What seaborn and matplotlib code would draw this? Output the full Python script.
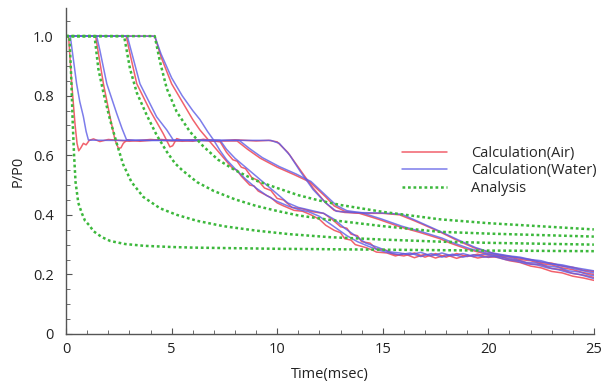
import numpy as np
import pandas as pd
import matplotlib
matplotlib.use("Agg")
import matplotlib.pyplot as plt
import seaborn as sns

sns.set_style("ticks")
plt.rcParams['font.family'] = ['Open Sans', 'DejaVu Sans']
plt.rcParams['font.size'] = 10.5

# ---- data (time in msec, P/P0) ----
# analysis curves (green dotted), one per case
a1_t = [0, 0.16, 0.24, 0.32, 0.38, 0.45, 0.58, 0.75, 0.9, 1.1, 1.3, 1.7, 2.1, 2.8, 3.7, 5, 6, 8, 10, 15, 20, 25]
a1_p = [1.0, 1.0, 0.87, 0.70, 0.60, 0.51, 0.44, 0.405, 0.38, 0.365, 0.345, 0.325, 0.312, 0.302, 0.296, 0.292, 0.29,
        0.288, 0.286, 0.283, 0.28, 0.278]
a2_t = [0, 1.35, 1.53, 1.77, 2.08, 2.4, 2.7, 3.1, 3.66, 4.45, 5.24, 6.2, 7.45, 9, 10.6, 12.5, 15, 17.7, 20, 25]
a2_p = [1.0, 1.0, 0.89, 0.81, 0.72, 0.64, 0.57, 0.51, 0.46, 0.422, 0.40, 0.38, 0.362, 0.347, 0.335, 0.325, 0.317,
        0.31, 0.306, 0.30]
a3_t = [0, 2.75, 3.03, 3.35, 3.82, 4.29, 4.77, 5.16, 5.5, 6.2, 7, 8, 9, 10, 11, 12.5, 15, 17.7, 20, 25]
a3_p = [1.0, 1.0, 0.89, 0.81, 0.735, 0.668, 0.612, 0.573, 0.55, 0.51, 0.48, 0.452, 0.43, 0.413, 0.398, 0.383, 0.362,
        0.343, 0.337, 0.327]
a4_t = [0, 4.2, 4.45, 4.77, 5.24, 5.87, 6.5, 7.2, 8, 9, 10, 11, 12, 13, 15, 17.7, 20, 25]
a4_p = [1.0, 1.0, 0.914, 0.824, 0.746, 0.679, 0.63, 0.585, 0.55, 0.515, 0.49, 0.466, 0.448, 0.433, 0.41, 0.385,
        0.372, 0.351]

# calculation, air (red)
r1_t = [0, 0.12, 0.27, 0.43, 0.52, 0.6, 0.7, 0.82, 0.95, 1.1, 1.3, 1.6, 2, 3, 4, 5, 6, 7, 8, 9, 9.6, 10.0, 10.5,
        11.1, 11.7, 12.3, 12.7, 13.2, 14, 15, 15.8, 16.5, 17.7, 18.5, 19.3, 20.0, 20.5, 20.9, 21.5, 22, 22.5, 23,
        23.5, 24, 24.5, 25]
r1_p = [1.0, 1.0, 0.84, 0.70, 0.64, 0.615, 0.625, 0.64, 0.635, 0.65, 0.655, 0.646, 0.653, 0.647, 0.653, 0.648,
        0.652, 0.647, 0.652, 0.648, 0.65, 0.645, 0.61, 0.55, 0.49, 0.44, 0.415, 0.408, 0.405, 0.405, 0.40, 0.38,
        0.343, 0.315, 0.29, 0.275, 0.266, 0.262, 0.255, 0.25, 0.24, 0.238, 0.228, 0.224, 0.214, 0.21]
r2_t = [0, 1.4, 1.77, 2.08, 2.32, 2.48, 2.6, 2.71, 2.9, 3.5, 4.5, 5.5, 6.5, 7.5, 8.1, 8.6, 9.2, 10, 10.8, 11.55,
        12.3, 12.7, 13.2, 13.9, 14.8, 15.8, 16.8, 17.7, 18.2, 19, 19.8, 20.5, 21, 21.5, 22, 22.5, 23, 23.5, 24, 24.5,
        25]
r2_p = [1.0, 1.0, 0.84, 0.73, 0.651, 0.623, 0.625, 0.64, 0.652, 0.647, 0.653, 0.647, 0.653, 0.648, 0.648, 0.62,
        0.59, 0.56, 0.535, 0.51, 0.46, 0.43, 0.412, 0.405, 0.385, 0.36, 0.34, 0.32, 0.305, 0.285, 0.27, 0.262, 0.258,
        0.25, 0.246, 0.236, 0.232, 0.222, 0.216, 0.206, 0.2]
r3_t = [0, 2.85, 3.0, 3.35, 3.98, 4.6, 4.92, 5.05, 5.24, 5.5, 6, 6.5, 7, 7.3, 7.6, 7.9, 8.1, 8.3, 8.5, 8.8, 9.1,
        9.4, 9.7, 10.0, 10.3, 10.7, 11.2, 11.7, 12.2, 12.6, 13.0, 13.3, 13.5, 13.8, 14.0, 14.4, 14.7, 15.1, 15.5, 16,
        16.5, 17, 17.5, 18, 18.5, 19, 19.5, 20, 20.5, 21, 21.5, 22, 22.5, 23, 23.5, 24, 24.5, 25]
r3_p = [1.0, 1.0, 0.95, 0.84, 0.75, 0.673, 0.628, 0.632, 0.656, 0.65, 0.647, 0.653, 0.648, 0.645, 0.61, 0.585,
        0.58, 0.56, 0.555, 0.525, 0.515, 0.49, 0.482, 0.455, 0.45, 0.425, 0.42, 0.41, 0.405, 0.385, 0.36, 0.355,
        0.335, 0.33, 0.31, 0.305, 0.285, 0.283, 0.268, 0.262, 0.272, 0.258, 0.27, 0.258, 0.27, 0.26, 0.268, 0.257,
        0.262, 0.25, 0.246, 0.235, 0.232, 0.22, 0.216, 0.203, 0.198, 0.19]
r4_t = [0, 4.2, 4.5, 5, 5.5, 6, 6.34, 6.7, 7, 7.3, 7.6, 7.9, 8.1, 8.3, 8.7, 8.9, 9.1, 9.5, 9.7, 10, 10.3, 10.8,
        11.2, 11.6, 12.0, 12.3, 12.7, 13.0, 13.2, 13.5, 13.7, 14.2, 14.5, 14.7, 15.2, 15.6, 16, 16.5, 17, 17.5, 18,
        18.5, 19, 19.5, 20, 20.5, 21, 21.5, 22, 22.5, 23, 23.5, 24, 24.5, 25]
r4_p = [1.0, 1.0, 0.93, 0.84, 0.78, 0.72, 0.685, 0.655, 0.63, 0.605, 0.58, 0.555, 0.55, 0.53, 0.50, 0.497, 0.48,
        0.465, 0.458, 0.44, 0.43, 0.415, 0.412, 0.40, 0.385, 0.365, 0.348, 0.34, 0.32, 0.315, 0.30, 0.29, 0.282,
        0.275, 0.272, 0.262, 0.27, 0.256, 0.268, 0.255, 0.266, 0.254, 0.265, 0.255, 0.262, 0.256, 0.246, 0.24,
        0.228, 0.222, 0.21, 0.205, 0.194, 0.188, 0.18]

# calculation, water (blue)
b1_t = [0, 0.2, 0.35, 0.5, 0.65, 0.82, 0.95, 1.06, 2, 4, 6, 8, 9.7, 10.1, 10.6, 11.1, 11.7, 12.3, 12.8, 13.5, 15,
        15.9, 16.6, 17.7, 18.6, 19.4, 20.2, 21, 21.5, 22, 22.5, 23, 23.5, 24, 24.5, 25]
b1_p = [1.0, 1.0, 0.92, 0.84, 0.78, 0.73, 0.68, 0.651, 0.65, 0.65, 0.65, 0.65, 0.65, 0.64, 0.60, 0.545, 0.485,
        0.44, 0.412, 0.408, 0.406, 0.402, 0.38, 0.345, 0.315, 0.29, 0.272, 0.262, 0.258, 0.25, 0.246, 0.236, 0.232,
        0.224, 0.218, 0.212]
b2_t = [0, 1.45, 1.6, 1.93, 2.4, 2.65, 2.87, 4, 6, 8.2, 8.7, 9.3, 10.1, 10.9, 11.6, 12.35, 12.8, 13.3, 14, 14.9,
        15.9, 16.9, 17.8, 18.3, 19.1, 19.9, 20.6, 21, 21.5, 22, 22.5, 23, 23.5, 24, 24.5, 25]
b2_p = [1.0, 1.0, 0.953, 0.84, 0.74, 0.69, 0.651, 0.65, 0.65, 0.65, 0.622, 0.592, 0.562, 0.537, 0.512, 0.462,
        0.432, 0.414, 0.407, 0.387, 0.362, 0.342, 0.322, 0.307, 0.287, 0.272, 0.264, 0.26, 0.255, 0.248, 0.242,
        0.235, 0.228, 0.22, 0.212, 0.205]
b3_t = [0, 2.9, 3.5, 4.29, 4.77, 5.08, 6, 7.3, 7.6, 8.0, 8.5, 9.0, 9.5, 10.0, 10.5, 11.0, 11.6, 12.2, 12.7, 13.2,
        13.7, 14.2, 14.8, 15.3, 15.8, 16.3, 16.8, 17.3, 17.8, 18.3, 18.8, 19.3, 19.8, 20.3, 20.8, 21.3, 21.8, 22.3,
        22.8, 23.3, 23.8, 24.3, 24.8, 25]
b3_p = [1.0, 1.0, 0.84, 0.729, 0.685, 0.651, 0.65, 0.65, 0.62, 0.59, 0.56, 0.53, 0.5, 0.47, 0.44, 0.425, 0.415,
        0.405, 0.385, 0.355, 0.33, 0.305, 0.29, 0.276, 0.272, 0.266, 0.274, 0.262, 0.272, 0.262, 0.27, 0.26, 0.268,
        0.262, 0.256, 0.25, 0.24, 0.238, 0.228, 0.224, 0.212, 0.208, 0.198, 0.196]
b4_t = [0, 4.2, 4.5, 5, 5.5, 6, 6.34, 6.7, 7, 7.3, 7.6, 8.0, 8.5, 9.0, 9.5, 10, 10.5, 11, 11.5, 12, 12.4, 12.8,
        13.3, 13.8, 14.3, 14.8, 15.3, 15.8, 16.3, 16.8, 17.3, 17.8, 18.3, 18.8, 19.3, 19.8, 20.3, 20.8, 21.3, 21.8,
        22.3, 22.8, 23.3, 23.8, 24.3, 24.8, 25]
b4_p = [1.0, 1.0, 0.94, 0.86, 0.80, 0.75, 0.72, 0.68, 0.65, 0.615, 0.585, 0.555, 0.52, 0.49, 0.465, 0.445, 0.43,
        0.418, 0.41, 0.395, 0.375, 0.355, 0.33, 0.31, 0.295, 0.282, 0.272, 0.266, 0.272, 0.26, 0.27, 0.258, 0.268,
        0.258, 0.266, 0.258, 0.26, 0.25, 0.245, 0.236, 0.232, 0.222, 0.216, 0.206, 0.2, 0.19, 0.186]

air = [(r1_t, r1_p), (r2_t, r2_p), (r3_t, r3_p), (r4_t, r4_p)]
water = [(b1_t, b1_p), (b2_t, b2_p), (b3_t, b3_p), (b4_t, b4_p)]
analysis = [(a1_t, a1_p), (a2_t, a2_p), (a3_t, a3_p), (a4_t, a4_p)]

red = "#f0505c"
blue = "#5c5ce6"
green = "#3cb83c"

fig = plt.figure(figsize=(6.06, 3.87), dpi=100)
ax = fig.add_axes([0.109, 0.137, 0.871, 0.842])

for i, (t, p) in enumerate(air):
    sns.lineplot(x=t, y=p, ax=ax, color=red, lw=1.1, alpha=0.9, sort=False, estimator=None,
                 label="Calculation(Air)" if i == 0 else None)
for i, (t, p) in enumerate(water):
    sns.lineplot(x=t, y=p, ax=ax, color=blue, lw=1.1, alpha=0.8, sort=False, estimator=None,
                 label="Calculation(Water)" if i == 0 else None)
for i, (t, p) in enumerate(analysis):
    sns.lineplot(x=t, y=p, ax=ax, color=green, lw=1.8, linestyle=(0, (1.1, 1.1)), sort=False, estimator=None,
                 label="Analysis" if i == 0 else None)

ax.set_xlim(0, 25)
ax.set_ylim(0, 1.094)
ax.set_xticks([0, 5, 10, 15, 20, 25])
ax.set_xticklabels(["0", "5", "10", "15", "20", "25"])
ax.set_yticks([0, 0.2, 0.4, 0.6, 0.8, 1.0])
ax.set_yticklabels(["0", "0.2", "0.4", "0.6", "0.8", "1.0"])
ax.set_xticks(np.arange(0, 26, 1), minor=True)
ax.set_yticks(np.arange(0, 1.09, 0.05), minor=True)
ax.tick_params(which='both', direction='in', color='#555555')
ax.tick_params(which='major', length=4, labelsize=10.5, labelcolor='#222222')
ax.tick_params(which='minor', length=3)
ax.tick_params(axis='y', pad=9)
ax.tick_params(axis='x', pad=6)
sns.despine(ax=ax)
for s in ['left', 'bottom']:
    ax.spines[s].set_color('#555555')
    ax.spines[s].set_linewidth(1.0)

ax.set_xlabel("Time(msec)", fontsize=10.5, color='#222222', labelpad=7)
ax.set_ylabel("P/P0", fontsize=10.5, color='#222222', labelpad=5)

ax.legend(loc='upper left', bbox_to_anchor=(0.642, 0.656), bbox_transform=fig.transFigure, frameon=False,
          fontsize=10.5, handlelength=3.1, handletextpad=1.6, labelspacing=0.15)

fig.savefig("out.png", dpi=100)
